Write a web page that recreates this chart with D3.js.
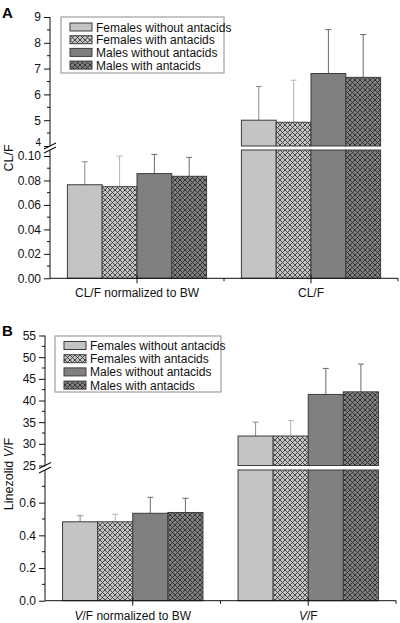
<!DOCTYPE html>
<html><head><meta charset="utf-8">
<script src="https://cdn.jsdelivr.net/npm/d3@7"></script>
<style>body{margin:0;background:#fff}svg{display:block;font-family:"Liberation Sans",Arial,sans-serif}</style>
</head><body>
<svg id="c" width="400" height="623"></svg>
<script>
const seriesNames = ["Females without antacids", "Females with antacids", "Males without antacids", "Males with antacids"];
const categoriesA = ["CL/F normalized to BW", "CL/F"];
const clfNormMean = [0.0765, 0.0749, 0.0856, 0.0834];
const clfNormSD   = [0.0188, 0.0250, 0.0157, 0.0155];
const clfMean     = [5.00, 4.92, 6.81, 6.66];
const clfSD       = [1.31, 1.63, 1.70, 1.66];
const categoriesB = ["V/F normalized to BW", "V/F"];
const vfNormMean  = [0.483, 0.483, 0.535, 0.540];
const vfNormSD    = [0.037, 0.046, 0.098, 0.087];
const vfMean      = [31.8, 31.8, 41.4, 42.0];
const vfSD        = [3.2, 3.6, 6.0, 6.4];
const ticksAUpper = [4, 5, 6, 7, 8, 9];
const ticksALower = [0, 0.02, 0.04, 0.06, 0.08, 0.10];
const ticksBUpper = [25, 30, 35, 40, 45, 50, 55];
const ticksBLower = [0, 0.2, 0.4, 0.6];

const svg = d3.select("#c");
const defs = svg.append("defs");
function hatch(id, base, line) {
  const p = defs.append("pattern").attr("id", id).attr("patternUnits", "userSpaceOnUse")
    .attr("width", 5).attr("height", 5);
  p.append("rect").attr("width", 5).attr("height", 5).attr("fill", base);
  p.append("path").attr("d", "M0,0L5,5M5,0L0,5").attr("stroke", line).attr("stroke-width", 0.9);
}
hatch("hl", "#c4c4c4", "#3a3a3a");
hatch("hd", "#808080", "#2a2a2a");
const fills = ["#c4c4c4", "url(#hl)", "#808080", "url(#hd)"];
const errCols = ["#8a8a8a", "#b4b4b4", "#6a6a6a", "#6a6a6a"];

function panel(cfg) {
  const g = svg.append("g");
  const x = d3.scaleBand().domain(cfg.cats).range([cfg.ax, cfg.xEnd]).paddingInner(0.2).paddingOuter(0.1);
  const xs = d3.scaleBand().domain(seriesNames).range([0, x.bandwidth()]);
  const yU = d3.scaleLinear().domain(cfg.uDom).range(cfg.uRange);
  const yL = d3.scaleLinear().domain(cfg.lDom).range(cfg.lRange);

  seriesNames.forEach((s, i) => {
    const bx = x(cfg.cats[0]) + xs(s);
    const c0 = bx + xs.bandwidth() / 2;
    g.append("line").attr("x1", c0).attr("x2", c0)
      .attr("y1", yL(cfg.nMean[i])).attr("y2", yL(cfg.nMean[i] + cfg.nSD[i])).attr("stroke", errCols[i]);
    g.append("line").attr("x1", c0 - 3).attr("x2", c0 + 3)
      .attr("y1", yL(cfg.nMean[i] + cfg.nSD[i])).attr("y2", yL(cfg.nMean[i] + cfg.nSD[i])).attr("stroke", errCols[i]);
    g.append("rect").attr("x", bx).attr("width", xs.bandwidth())
      .attr("y", yL(cfg.nMean[i])).attr("height", yL(0) - yL(cfg.nMean[i]))
      .attr("fill", fills[i]).attr("stroke", "#3c3c3c").attr("stroke-width", 1);
    const bx2 = x(cfg.cats[1]) + xs(s);
    g.append("rect").attr("x", bx2).attr("width", xs.bandwidth())
      .attr("y", yL(cfg.lDom[1])).attr("height", yL(0) - yL(cfg.lDom[1]))
      .attr("fill", fills[i]).attr("stroke", "#3c3c3c").attr("stroke-width", 1);
    const cx = bx2 + xs.bandwidth() / 2;
    g.append("line").attr("x1", cx).attr("x2", cx)
      .attr("y1", yU(cfg.aMean[i])).attr("y2", yU(cfg.aMean[i] + cfg.aSD[i])).attr("stroke", errCols[i]);
    g.append("line").attr("x1", cx - 3).attr("x2", cx + 3)
      .attr("y1", yU(cfg.aMean[i] + cfg.aSD[i])).attr("y2", yU(cfg.aMean[i] + cfg.aSD[i])).attr("stroke", errCols[i]);
    g.append("rect").attr("x", bx2).attr("width", xs.bandwidth())
      .attr("y", yU(cfg.aMean[i])).attr("height", yU(cfg.uDom[0]) - yU(cfg.aMean[i]))
      .attr("fill", fills[i]).attr("stroke", "#3c3c3c").attr("stroke-width", 1);
  });

  const axU = g.append("g").attr("transform", `translate(${cfg.ax},0)`)
    .call(d3.axisLeft(yU).tickValues(cfg.uTicks).tickSize(6).tickFormat(cfg.uFmt));
  const axL = g.append("g").attr("transform", `translate(${cfg.ax},0)`)
    .call(d3.axisLeft(yL).tickValues(cfg.lTicks).tickSize(6).tickFormat(cfg.lFmt));
  [axU, axL].forEach(a => {
    a.select(".domain").remove();
    a.selectAll("text").attr("font-size", 12).attr("fill", "#111")
      .attr("font-family", '"Liberation Sans",Arial,sans-serif');
    a.selectAll("line").attr("stroke", "#111");
  });
  if (cfg.smallBottom) {
    axU.selectAll(".tick").filter(d => d === cfg.uDom[0]).select("text")
      .attr("font-size", 10).attr("dy", "-0.05em");
  }
  const minorU = d3.range(cfg.uDom[0] + cfg.uMinor, cfg.uDom[1], cfg.uMinor * 2);
  const minorL = d3.range(cfg.lMinor, cfg.lDom[1], cfg.lMinor * 2);
  minorU.forEach(v => g.append("line").attr("x1", cfg.ax - 3).attr("x2", cfg.ax).attr("y1", yU(v)).attr("y2", yU(v)).attr("stroke", "#111"));
  minorL.forEach(v => g.append("line").attr("x1", cfg.ax - 3).attr("x2", cfg.ax).attr("y1", yL(v)).attr("y2", yL(v)).attr("stroke", "#111"));
  g.append("line").attr("x1", cfg.ax).attr("x2", cfg.ax).attr("y1", cfg.uRange[1]).attr("y2", cfg.uRange[0]).attr("stroke", "#111");
  g.append("line").attr("x1", cfg.ax).attr("x2", cfg.ax).attr("y1", cfg.lRange[1]).attr("y2", cfg.lRange[0]).attr("stroke", "#111");
  [cfg.uRange[0], cfg.lRange[1]].forEach(yb => {
    g.append("line").attr("x1", cfg.ax - 6).attr("x2", cfg.ax + 6).attr("y1", yb + 3).attr("y2", yb - 3)
      .attr("stroke", "#111").attr("stroke-width", 1.1);
  });

  const y0 = yL(0);
  g.append("line").attr("x1", cfg.ax).attr("x2", cfg.xEnd).attr("y1", y0).attr("y2", y0).attr("stroke", "#111");
  cfg.cats.forEach(c => {
    const cx = x(c) + x.bandwidth() / 2;
    g.append("line").attr("x1", cx).attr("x2", cx).attr("y1", y0 - 3).attr("y2", y0 + 5).attr("stroke", "#111");
  });
  const midX = (x(cfg.cats[0]) + x.bandwidth() / 2 + x(cfg.cats[1]) + x.bandwidth() / 2) / 2;
  [midX, cfg.xEnd].forEach(mx => g.append("line").attr("x1", mx).attr("x2", mx).attr("y1", y0).attr("y2", y0 + 3).attr("stroke", "#111"));
  cfg.xLabels.forEach((parts, k) => {
    const t = g.append("text").attr("x", x(cfg.cats[k]) + x.bandwidth() / 2).attr("y", y0 + 19)
      .attr("text-anchor", "middle").attr("font-size", 12).attr("fill", "#111");
    parts.forEach(p => t.append("tspan").attr("font-style", p[1] ? "italic" : "normal").text(p[0]));
  });

  const yl = g.append("text").attr("transform", `translate(${cfg.yLabX},${cfg.yLabY}) rotate(-90)`)
    .attr("text-anchor", "middle").attr("font-size", 12.5).attr("fill", "#111");
  cfg.yLabel.forEach(p => yl.append("tspan").attr("font-style", p[1] ? "italic" : "normal").text(p[0]));

  g.append("text").attr("x", 2).attr("y", cfg.letterY).attr("font-size", 15).attr("font-weight", "bold").text(cfg.letter);

  const L = cfg.leg;
  g.append("rect").attr("x", L.x).attr("y", L.y).attr("width", L.w).attr("height", L.h)
    .attr("fill", "#fff").attr("stroke", "#8c8c8c");
  seriesNames.forEach((s, i) => {
    const ry = L.y + L.first + i * L.step;
    g.append("rect").attr("x", L.x + 9).attr("y", ry - 4).attr("width", 22).attr("height", 8)
      .attr("fill", fills[i]).attr("stroke", "#3c3c3c");
    g.append("text").attr("x", L.x + 35).attr("y", ry + 4.5).attr("font-size", 12).attr("fill", "#111").text(s);
  });
}

panel({
  cats: categoriesA, ax: 50, xEnd: 398,
  uDom: [4, 9], uRange: [146, 17], uTicks: ticksAUpper, uFmt: d3.format("d"), uMinor: 0.5, smallBottom: true,
  lDom: [0, 0.1049], lRange: [278.3, 150], lTicks: ticksALower, lFmt: d3.format(".2f"), lMinor: 0.01,
  nMean: clfNormMean, nSD: clfNormSD, aMean: clfMean, aSD: clfSD,
  xLabels: [[["CL/F normalized to BW", false]], [["CL/F", false]]],
  yLabel: [["CL/F", false]], yLabX: 13, yLabY: 158,
  letter: "A", letterY: 18,
  leg: {x: 61, y: 17, w: 163, h: 56, first: 10, step: 12.7}
});
panel({
  cats: categoriesB, ax: 45, xEnd: 396,
  uDom: [25, 55], uRange: [465.5, 335.5], uTicks: ticksBUpper, uFmt: d3.format("d"), uMinor: 2.5,
  lDom: [0, 0.8], lRange: [600.7, 470], lTicks: ticksBLower, lFmt: d3.format(".1f"), lMinor: 0.1,
  nMean: vfNormMean, nSD: vfNormSD, aMean: vfMean, aSD: vfSD,
  xLabels: [[["V", true], ["/F normalized to BW", false]], [["V", true], ["/F", false]]],
  yLabel: [["Linezolid  ", false], ["V", true], ["/F", false]], yLabX: 13, yLabY: 474,
  letter: "B", letterY: 336,
  leg: {x: 55, y: 336, w: 166, h: 56, first: 9.5, step: 13.2}
});
</script>
</body></html>
